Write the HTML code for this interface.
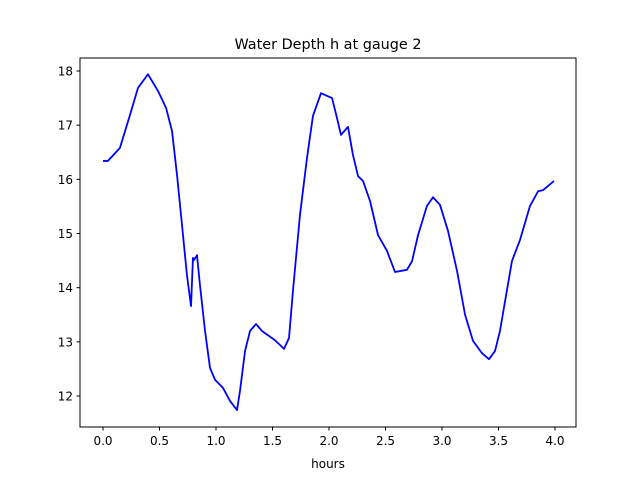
<!DOCTYPE html>
<html><head><meta charset="utf-8"><style>
body{margin:0;background:#fff;}
svg{display:block;font-family:"DejaVu Sans","Liberation Sans",sans-serif;}
</style></head><body>
<svg id="chart" width="640" height="480">
<rect width="640" height="480" fill="#fff"/>
<text x="328" y="49" text-anchor="middle" font-size="14.4">Water Depth h at gauge 2</text>
<text x="328" y="468" text-anchor="middle" font-size="12">hours</text>
<g id="ticks"></g>
<polyline id="line" fill="none" stroke="#0000ff" stroke-width="1.8" stroke-linejoin="round"/>
<rect x="80" y="58" width="496" height="369" fill="none" stroke="#000" stroke-width="1"/>
</svg>
<script>
const hours=[0,0.044,0.15,0.239,0.31,0.398,0.487,0.558,0.611,0.655,0.699,0.743,0.779,0.796,0.805,0.832,0.858,0.903,0.947,0.991,1.062,1.124,1.186,1.212,1.257,1.301,1.354,1.407,1.522,1.602,1.646,1.681,1.743,1.805,1.858,1.929,2.027,2.071,2.106,2.168,2.212,2.257,2.301,2.363,2.434,2.513,2.584,2.69,2.735,2.788,2.867,2.92,2.982,3.053,3.133,3.204,3.274,3.354,3.416,3.469,3.513,3.558,3.619,3.69,3.779,3.85,3.894,3.991];
const depth=[16.34,16.34,16.58,17.19,17.69,17.94,17.63,17.32,16.89,16.08,15.16,14.23,13.66,14.55,14.51,14.6,14.05,13.2,12.52,12.3,12.15,11.91,11.74,12.09,12.83,13.2,13.33,13.2,13.03,12.87,13.07,13.94,15.34,16.39,17.17,17.59,17.5,17.13,16.82,16.97,16.45,16.06,15.97,15.6,14.97,14.68,14.29,14.33,14.49,14.97,15.51,15.67,15.53,15.05,14.31,13.5,13.02,12.79,12.68,12.83,13.2,13.75,14.49,14.88,15.51,15.78,15.8,15.97];
const xTicks=[0,0.5,1,1.5,2,2.5,3,3.5,4];
const xTickLabels=["0.0","0.5","1.0","1.5","2.0","2.5","3.0","3.5","4.0"];
const yTicks=[12,13,14,15,16,17,18];
const yTickLabels=["12","13","14","15","16","17","18"];
const X=v=>103+v*113;
const Y=v=>71+(18-v)*54.17;
const NS="http://www.w3.org/2000/svg";
const g=document.getElementById('ticks');
function mk(tag,attrs){const e=document.createElementNS(NS,tag);for(const k in attrs)e.setAttribute(k,attrs[k]);return e;}
xTicks.forEach((t,i)=>{
 const l=mk('line',{x1:X(t),x2:X(t),y1:427,y2:430.5,stroke:'#000'});
 
 
 g.appendChild(l);
 const tx=mk('text',{x:X(t),y:445,'text-anchor':'middle','font-size':'12'});
 tx.textContent=xTickLabels[i];
 
 
 g.appendChild(tx);
});
yTicks.forEach((t,i)=>{
 const l=mk('line',{x1:76.5,x2:80,y1:Y(t),y2:Y(t),stroke:'#000'});
 
 
 g.appendChild(l);
 const tx=mk('text',{x:73,y:Y(t)+4.5,'text-anchor':'end','font-size':'12'});
 tx.textContent=yTickLabels[i];
 
 
 g.appendChild(tx);
});
document.getElementById('line').setAttribute('points',hours.map((h,i)=>X(h)+','+Y(depth[i])).join(' '));
</script>
</body></html>
